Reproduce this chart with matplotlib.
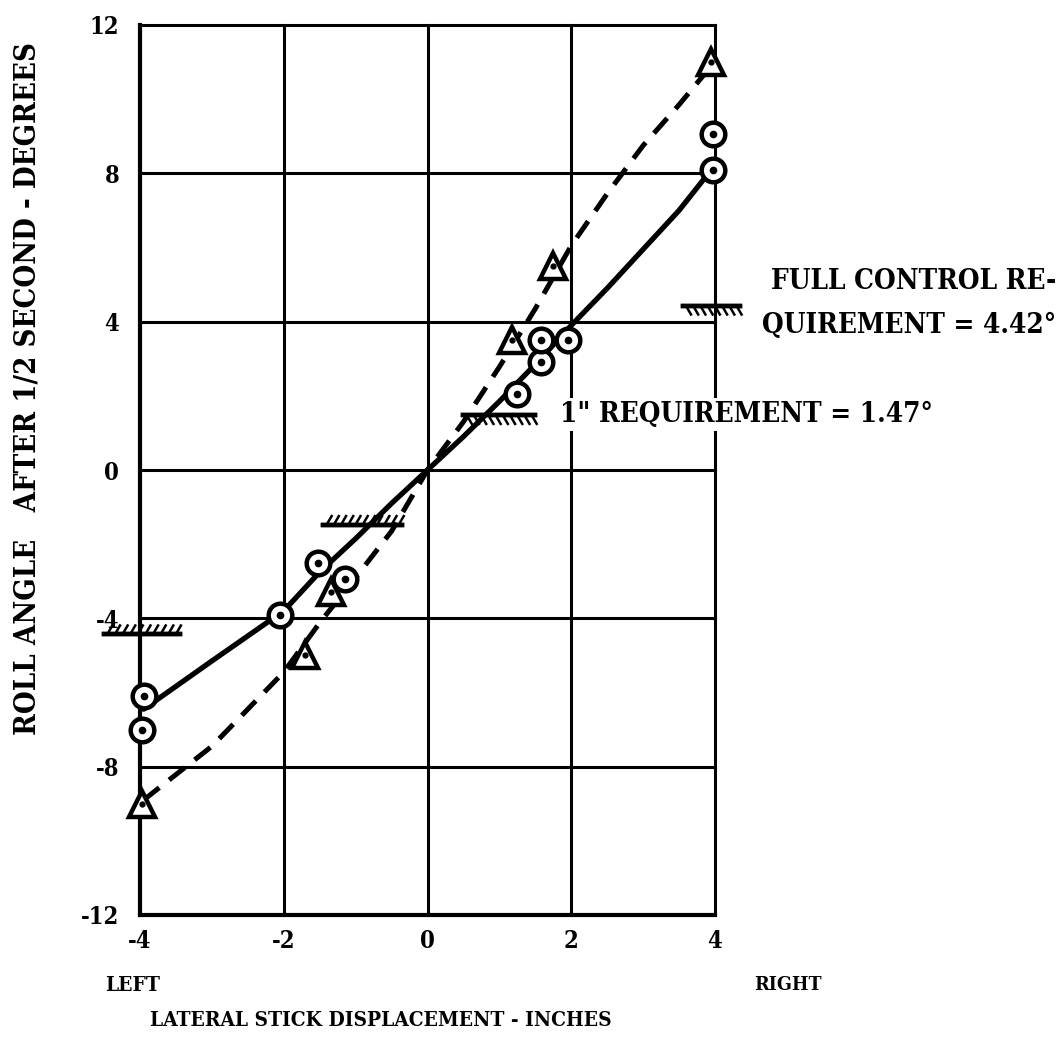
import numpy as np
import matplotlib.pyplot as plt
from matplotlib import patheffects

# --- data ---
circ_x = [-3.95, -3.97, -2.05, -1.53, -1.15, 1.24, 1.58, 1.58, 1.95, 3.97, 3.97]
circ_y = [-6.1, -7.0, -3.9, -2.5, -2.95, 2.05, 2.9, 3.5, 3.5, 8.1, 9.05]
tri_x = [-3.97, -1.71, -1.34, 1.18, 1.74, 3.95]
tri_y = [-9.0, -5.0, -3.3, 3.5, 5.5, 11.0]

solid_x = [-3.95, -3, -2, -1.5, -1, -0.5, 0, 0.5, 1, 1.5, 2, 2.5, 3, 3.5, 3.95]
solid_y = [-6.45, -5.15, -3.8, -2.75, -1.85, -0.9, 0, 0.9, 1.85, 2.85, 3.9, 4.9, 5.95, 7.0, 8.1]
dash_x = [-3.95, -3, -2, -1.5, -1, -0.5, 0, 0.5, 1, 1.5, 2, 2.5, 3, 3.5, 3.95]
dash_y = [-8.9, -7.45, -5.45, -4.12, -2.9, -1.65, 0, 1.3, 2.78, 4.35, 6.05, 7.45, 8.75, 9.85, 10.9]

# requirement hatches: (left end, right end, level)
req_x0 = [-4.5, -1.45, 0.5, 3.55]
req_x1 = [-3.45, -0.35, 1.5, 4.35]
req_y = [-4.42, -1.47, 1.47, 4.42]

xticks = [-4, -2, 0, 2, 4]
yticks = [-12, -8, -4, 0, 4, 8, 12]

plt.rcParams['font.family'] = 'DejaVu Serif'
plt.rcParams['font.weight'] = 'bold'
plt.rcParams['font.stretch'] = 'condensed'

fig = plt.figure(figsize=(10.64, 10.38), dpi=100)
ax = fig.add_axes([140/1064, 1 - 915/1038, 575/1064, 890/1038])
ax.set_xlim(-4, 4)
ax.set_ylim(-12, 12)

# grid
for x in xticks:
    ax.axvline(x, color='black', lw=3.0 if x == -4 else 2.2, zorder=1, clip_on=False)
for y in yticks:
    ax.axhline(y, color='black', lw=3.0 if y == -12 else 2.2, zorder=1, clip_on=False)
for s in ax.spines.values():
    s.set_visible(False)

ax.set_xticks(xticks)
ax.set_yticks(yticks)
ax.set_xticklabels([str(v) for v in xticks])
ax.set_yticklabels([str(v) for v in yticks])
ax.tick_params(length=0, labelsize=17)
ax.tick_params(axis='y', pad=15)
ax.tick_params(axis='x', pad=10)

# curves
ax.plot(solid_x, solid_y, color='black', lw=3.8, zorder=3, solid_capstyle='round')
ax.plot(dash_x, dash_y, color='black', lw=3.6, zorder=3, dashes=(4, 2.5))

# hatched requirement lines
for x0, x1, y in zip(req_x0, req_x1, req_y):
    ang = -60 if y > 0 else 60
    ax.plot([x0, x1], [y, y], color='black', lw=3.2, zorder=4, clip_on=False,
            path_effects=[patheffects.withTickedStroke(spacing=5, angle=ang, length=1.4, linewidth=1.8),
                          patheffects.Normal()])

# markers
ax.plot(circ_x, circ_y, 'o', ms=17, mfc='white', mec='black', mew=3.2, zorder=5, clip_on=False)
ax.plot(circ_x, circ_y, 'o', ms=4.5, color='black', zorder=6, clip_on=False)
ax.plot(tri_x, tri_y, '^', ms=19, mfc='white', mec='black', mew=3.2, zorder=5, clip_on=False)
ax.plot(tri_x, tri_y, 'o', ms=3.5, color='black', zorder=6, clip_on=False)

# annotations
ax.text(1.84, 1.5, '1" REQUIREMENT = 1.47\u00b0', fontsize=20, ha='left', va='center',
        clip_on=False, zorder=7, bbox=dict(fc='white', ec='none', pad=2))
ax.text(8.75, 5.07, 'FULL CONTROL RE-', fontsize=20, ha='right', va='center', clip_on=False)
ax.text(8.75, 3.9, 'QUIREMENT = 4.42\u00b0', fontsize=20, ha='right', va='center', clip_on=False)

fig.text(105/1064, 1 - 985/1038, 'LEFT', fontsize=15, ha='left', va='center')
fig.text(822/1064, 1 - 985/1038, 'RIGHT', fontsize=14, ha='right', va='center')
fig.text(381/1064, 1 - 1020/1038, 'LATERAL STICK DISPLACEMENT - INCHES', fontsize=15,
         ha='center', va='center')
fig.text(27/1064, 1 - 388/1038, 'ROLL ANGLE   AFTER 1/2 SECOND - DEGREES', fontsize=21,
         rotation=90, ha='center', va='center')

fig.savefig('out.png', dpi=100, facecolor='white')
